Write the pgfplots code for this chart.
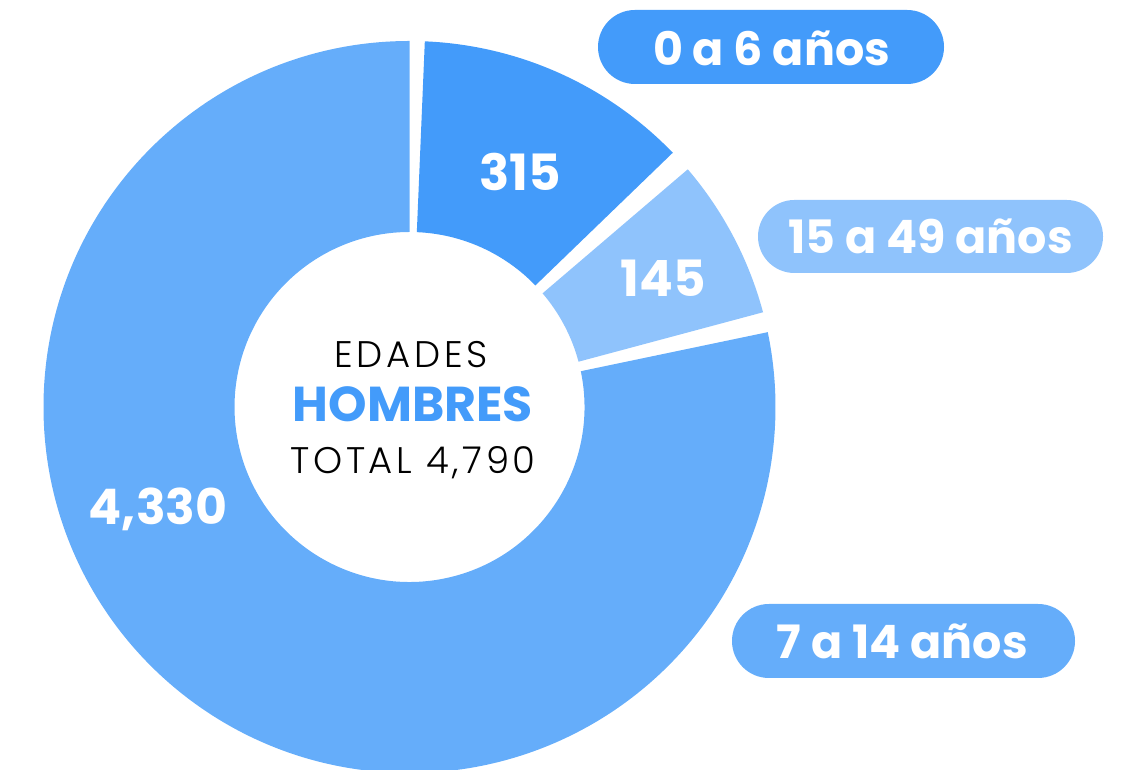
\documentclass[border=0pt]{standalone}
\usepackage{pgfplots}
\pgfplotsset{compat=1.18}
\usepackage{fontspec}
\setmainfont{Poppins}
\newfontfamily\lightfont{Poppins Light}[LetterSpace=10]
\usetikzlibrary{calc}
\definecolor{cA}{HTML}{439BFA}
\definecolor{cB}{HTML}{8FC3FC}
\definecolor{cC}{HTML}{65ADFA}
% slice: start angle, end angle, colour (angles)
\newcommand{\donutslice}[3]{%
  \fill[#3] ($(axis cs:409.5,363)+(#1:366pt)$) arc[start angle=#1,end angle=#2,radius=366pt]
    -- ($(axis cs:409.5,363)+(#2:175pt)$) arc[start angle=#2,end angle=#1,radius=175pt] -- cycle;}
\begin{document}
\begin{tikzpicture}
\begin{axis}[x=1pt,y=1pt,xmin=0,xmax=1127,ymin=0,ymax=770,hide axis,scale only axis,clip=true]
\addplot[draw=none] coordinates {(0,0) (1127,770)};
% values: 0 a 6 = 315, 15 a 49 = 145, 7 a 14 = 4330
\donutslice{90}{371.8}{cC}
\donutslice{44.0}{87.6}{cA}
\donutslice{15.0}{40.5}{cB}
% pills
\fill[cA, rounded corners=36.9pt] (axis cs:598,760) rectangle (axis cs:944,686);
\fill[cB, rounded corners=36.4pt] (axis cs:758,570) rectangle (axis cs:1103,497);
\fill[cC, rounded corners=36.9pt] (axis cs:732,166) rectangle (axis cs:1075,92);
\node[anchor=base, inner sep=0, text=white, font=\fontsize{46}{50}\selectfont\bfseries] at (axis cs:771.5,704) {0 a 6 años};
\node[anchor=base, inner sep=0, text=white, font=\fontsize{46}{50}\selectfont\bfseries] at (axis cs:930.5,516.7) {15 a 49 años};
\node[anchor=base, inner sep=0, text=white, font=\fontsize{46}{50}\selectfont\bfseries] at (axis cs:902.3,111) {7 a 14 años};
% slice values
\node[anchor=base, inner sep=0, text=white, font=\fontsize{50}{54}\selectfont\bfseries] at (axis cs:520,579.3) {315};
\node[anchor=base, inner sep=0, text=white, font=\fontsize{50}{54}\selectfont\bfseries] at (axis cs:663,473.3) {145};
\node[anchor=base, inner sep=0, text=white, font=\fontsize{49}{54}\selectfont\bfseries] at (axis cs:158,245) {4,330};
% centre
\node[anchor=base, inner sep=0, text=black, font=\fontsize{37}{42}\selectfont\lightfont] at (axis cs:411,402) {EDADES};
\node[anchor=base, inner sep=0, text=cA, font=\fontsize{49}{52}\selectfont\bfseries] at (axis cs:413,348.3) {HOMBRES};
\node[anchor=base, inner sep=0, text=black, font=\fontsize{37}{42}\selectfont\lightfont] at (axis cs:413,296.7) {TOTAL 4,790};
\coordinate (LL) at (axis cs:0,0);
\coordinate (UR) at (axis cs:1127,770);
\end{axis}
\pgfresetboundingbox
\path[use as bounding box] (LL) rectangle (UR);
\end{tikzpicture}
\end{document}
